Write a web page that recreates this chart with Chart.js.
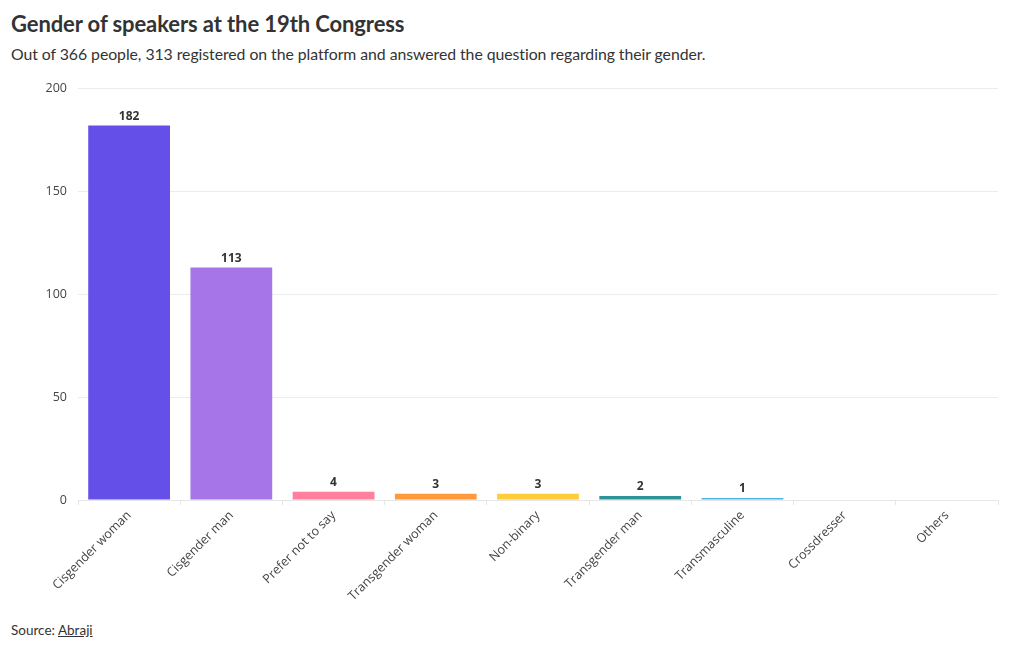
<!DOCTYPE html>
<html>
<head>
<meta charset="utf-8">
<script src="https://cdn.jsdelivr.net/npm/chart.js@4"></script>
<style>
  body { margin: 0; background: #fff; width: 1020px; height: 650px; position: relative; overflow: hidden; font-family: Lato, "Open Sans", sans-serif; color: #333; }
  #title { position: absolute; left: 11px; top: 10px; font-size: 22px; font-weight: 700; color: #333; letter-spacing: -0.1px; }
  #subtitle { position: absolute; left: 11px; top: 44px; font-size: 15.8px; color: #333; letter-spacing: -0.05px; }
  #source { position: absolute; left: 11px; top: 622px; font-size: 13.5px; color: #333; }
  #source span { text-decoration: underline; }
  #wrap { position: absolute; left: 0; top: 70px; width: 1020px; height: 530px; }
</style>
</head>
<body>
<div id="title">Gender of speakers at the 19th Congress</div>
<div id="subtitle">Out of 366 people, 313 registered on the platform and answered the question regarding their gender.</div>
<div id="wrap"><canvas id="chart"></canvas></div>
<div id="source">Source: <span>Abraji</span></div>
<script>
var categories = ["Cisgender woman", "Cisgender man", "Prefer not to say", "Transgender woman", "Non-binary", "Transgender man", "Transmasculine", "Crossdresser", "Others"];
var counts = [182, 113, 4, 3, 3, 2, 1, 0, 0];
var barColors = ["#6450e8", "#a675e8", "#ff7f9e", "#ff9a3a", "#ffcc3a", "#2e9399", "#4fb3e8", "#999999", "#999999"];
var yTicks = [0, 50, 100, 150, 200];

var valueLabels = {
    id: 'valueLabels',
    afterDatasetsDraw: function(chart) {
        var ctx = chart.ctx;
        var meta = chart.getDatasetMeta(0);
        ctx.save();
        ctx.font = "bold 12px 'Open Sans', sans-serif";
        ctx.fillStyle = "#333";
        ctx.textAlign = "center";
        ctx.textBaseline = "bottom";
        meta.data.forEach(function(bar, i) {
            if (counts[i] > 0) {
                ctx.fillText(counts[i], bar.x, bar.y - 3);
            }
        });
        ctx.restore();
    }
};

var ctx = document.getElementById('chart');
var chart = new Chart(ctx, {
    type: 'bar',
    data: {
        labels: categories,
        datasets: [{
            data: counts,
            backgroundColor: barColors,
            borderWidth: 0,
            barPercentage: 0.8,
            categoryPercentage: 1.0
        }]
    },
    options: {
        responsive: true,
        maintainAspectRatio: false,
        animation: false,
        layout: { padding: { left: 10, right: 22, top: 8, bottom: 0 } },
        plugins: {
            legend: { display: false },
            tooltip: { enabled: false }
        },
        scales: {
            x: {
                grid: { display: true, drawOnChartArea: false, drawTicks: true, tickLength: 5, color: "#e6e6e6" },
                border: { display: true, color: "#e6e6e6" },
                ticks: {
                    autoSkip: false,
                    minRotation: 45,
                    maxRotation: 45,
                    color: "#444",
                    font: { family: "'Open Sans', sans-serif", size: 12.5 },
                    padding: 3
                },
                afterFit: function(scale) { scale.height = 100; }
            },
            y: {
                min: 0,
                max: 200,
                afterBuildTicks: function(scale) {
                    scale.ticks = yTicks.map(function(v) { return { value: v }; });
                },
                grid: { color: "#ececec", drawTicks: false },
                border: { display: false },
                ticks: {
                    color: "#444",
                    font: { family: "'Open Sans', sans-serif", size: 12.5 },
                    padding: 11
                },
                afterFit: function(scale) { scale.width = 68; }
            }
        }
    },
    plugins: [valueLabels]
});
</script>
</body>
</html>
